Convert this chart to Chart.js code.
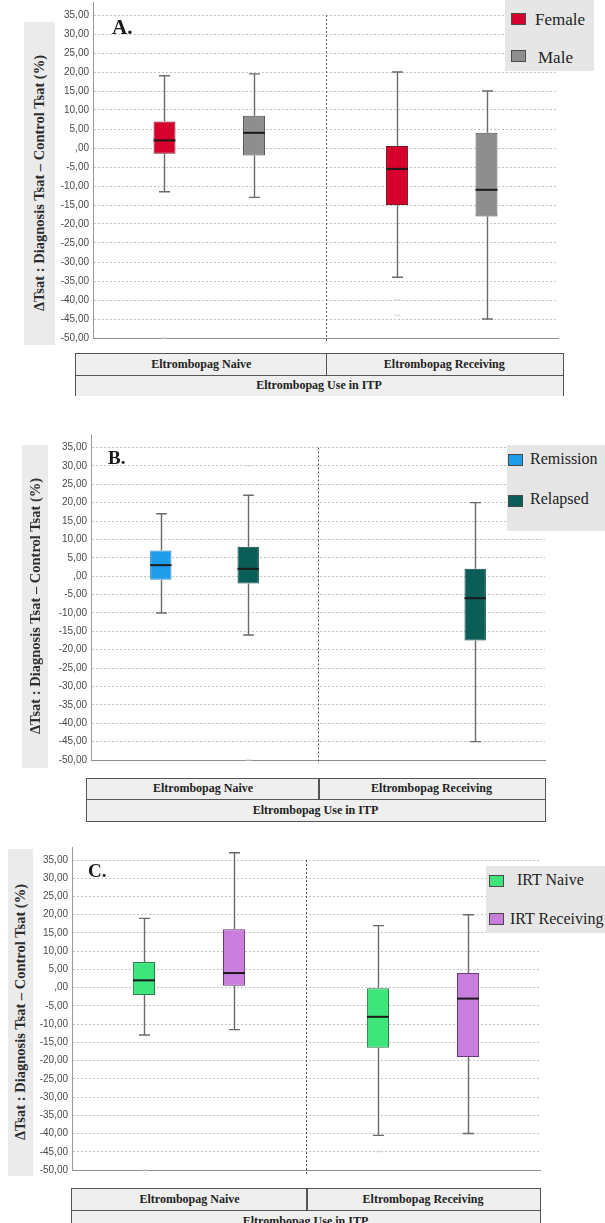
<!DOCTYPE html>
<html>
<head>
<meta charset="utf-8">
<script src="https://cdn.jsdelivr.net/npm/chart.js@4/dist/chart.umd.min.js"></script>
<style>
  html, body { margin: 0; padding: 0; background: #fff; }
  body { width: 605px; height: 1223px; position: relative; overflow: hidden; }
  canvas.panel { position: absolute; left: 0; }
  .ytitle {
    position: absolute; background: #ebebeb;
    display: flex; align-items: center; justify-content: center;
  }
  .ytitle span {
    writing-mode: vertical-rl; transform: rotate(180deg);
    font: bold 14.5px "Liberation Serif", "Times New Roman", serif; color: #2b2b2b;
    white-space: nowrap;
  }
  .letter { position: absolute; font: bold 20px "Liberation Serif", "Times New Roman", serif; color: #1a1a1a; }
  .legend { position: absolute; background: #e6e6e6; }
  .legend .sw { position: absolute; width: 15px; height: 12px; border: 1px solid #4a4a4a; box-sizing: border-box; }
  .legend .lt { position: absolute; font: 16px "Liberation Serif", "Times New Roman", serif; color: #222; white-space: nowrap; line-height: 1; }
  .tbl { position: absolute; background: #efefef; border: 1.5px solid #555; box-sizing: border-box; }
  .tbl .cell { position: absolute; display: flex; align-items: center; justify-content: center;
    font: bold 12px "Liberation Serif", "Times New Roman", serif; color: #222; white-space: nowrap; }
  .tbl .vline { position: absolute; width: 1.5px; background: #555; }
  .tbl .hline { position: absolute; height: 1.5px; background: #555; left: 0; right: 0; }
</style>
</head>
<body>
<canvas id="chartA" class="panel" width="605" height="348" style="top:0px"></canvas>
<canvas id="chartB" class="panel" width="605" height="340" style="top:430px"></canvas>
<canvas id="chartC" class="panel" width="605" height="335" style="top:845px"></canvas>

<script>
// ---- shared axis content ----
const categories = ['Eltrombopag Naive', 'Eltrombopag Receiving'];
const groupTitle = 'Eltrombopag Use in ITP';
const yAxisTitle = 'ΔTsat : Diagnosis Tsat – Control Tsat (%)';
const yTickValues = [35, 30, 25, 20, 15, 10, 5, 0, -5, -10, -15, -20, -25, -30, -35, -40, -45, -50];
const yTickLabels = ['35,00', '30,00', '25,00', '20,00', '15,00', '10,00', '5,00', ',00', '-5,00',
  '-10,00', '-15,00', '-20,00', '-25,00', '-30,00', '-35,00', '-40,00', '-45,00', '-50,00'];

// ---- A. sex ----
const femaleMin    = [-11.5, -34];
const femaleQ1     = [-1.5, -15];
const femaleMedian = [2, -5.5];
const femaleQ3     = [7, 0.5];
const femaleMax    = [19, 20];
const femaleOutliers = [[-50], [-40, -44]];

const maleMin    = [-13, -45];
const maleQ1     = [-2, -18];
const maleMedian = [4, -11];
const maleQ3     = [8.5, 4];
const maleMax    = [19.5, 15];
const maleOutliers = [[], []];

// ---- B. disease status ----
const remissionMin    = [-10, null];
const remissionQ1     = [-1, null];
const remissionMedian = [3, null];
const remissionQ3     = [7, null];
const remissionMax    = [17, null];
const remissionOutliers = [[-15], []];

const relapsedMin    = [-16, -45];
const relapsedQ1     = [-2, -17.5];
const relapsedMedian = [2, -6];
const relapsedQ3     = [8, 2];
const relapsedMax    = [22, 20];
const relapsedOutliers = [[30, -50], []];

// ---- C. IRT use ----
const irtNaiveMin    = [-13, -40.5];
const irtNaiveQ1     = [-2, -16.5];
const irtNaiveMedian = [2, -8];
const irtNaiveQ3     = [7, 0];
const irtNaiveMax    = [19, 17];
const irtNaiveOutliers = [[-50], [-45]];

const irtRecMin    = [-11.5, -40];
const irtRecQ1     = [0.5, -19];
const irtRecMedian = [4, -3];
const irtRecQ3     = [16, 4];
const irtRecMax    = [37, 20];
const irtRecOutliers = [[], []];

// Box series: the bar spans Q1..Q3, whiskers/median are drawn by the plugin below
function boxSeries(label, min, q1, med, q3, max, outliers, fill, border) {
  return {
    label,
    data: q1.map((v, i) => (v == null ? null : [v, q3[i]])),
    whiskerLow: min, whiskerHigh: max, median: med, outliers,
    backgroundColor: fill, borderColor: border, borderWidth: 1, borderSkipped: false,
    categoryPercentage: 0.77, barPercentage: 0.245
  };
}

const boxPlotPlugin = {
  id: 'boxPlotPlugin',
  beforeDatasetsDraw(chart) {
    const { ctx, chartArea: a, scales: { x } } = chart;
    // category divider
    const xd = (x.getPixelForValue(0) + x.getPixelForValue(1)) / 2;
    ctx.save();
    ctx.strokeStyle = '#5a5a5a'; ctx.lineWidth = 1; ctx.setLineDash([2, 2]);
    ctx.beginPath(); ctx.moveTo(Math.round(xd) + 0.5, a.top); ctx.lineTo(Math.round(xd) + 0.5, a.bottom + 4); ctx.stroke();
    ctx.setLineDash([]);
    // y axis line runs a little above the top tick
    ctx.strokeStyle = '#9a9a9a';
    ctx.beginPath(); ctx.moveTo(a.left + 0.5, a.top - 13); ctx.lineTo(a.left + 0.5, a.top); ctx.stroke();
    ctx.restore();
  },
  afterDatasetsDraw(chart) {
    const { ctx, scales: { y } } = chart;
    ctx.save();
    chart.data.datasets.forEach((ds, di) => {
      const meta = chart.getDatasetMeta(di);
      meta.data.forEach((bar, i) => {
        const xc = Math.round(bar.x) + 0.5;
        const w = bar.width;
        (ds.outliers[i] || []).forEach(v => {
          const yo = y.getPixelForValue(v);
          ctx.strokeStyle = '#cfcfcf'; ctx.lineWidth = 1;
          ctx.beginPath(); ctx.moveTo(xc - 3, yo); ctx.lineTo(xc + 3, yo); ctx.stroke();
        });
        if (ds.data[i] == null) return;
        const yq1 = y.getPixelForValue(ds.data[i][0]);
        const yq3 = y.getPixelForValue(ds.data[i][1]);
        const ylo = y.getPixelForValue(ds.whiskerLow[i]);
        const yhi = y.getPixelForValue(ds.whiskerHigh[i]);
        const ym = y.getPixelForValue(ds.median[i]);
        const cap = w * 0.25;
        ctx.strokeStyle = '#6a6a6a'; ctx.lineWidth = 1.4;
        ctx.beginPath();
        ctx.moveTo(xc, Math.min(yq1, yq3)); ctx.lineTo(xc, yhi);
        ctx.moveTo(xc - cap, yhi); ctx.lineTo(xc + cap, yhi);
        ctx.moveTo(xc, Math.max(yq1, yq3)); ctx.lineTo(xc, ylo);
        ctx.moveTo(xc - cap, ylo); ctx.lineTo(xc + cap, ylo);
        ctx.stroke();
        ctx.strokeStyle = '#1a1a1a'; ctx.lineWidth = 2;
        ctx.beginPath(); ctx.moveTo(bar.x - w / 2, ym); ctx.lineTo(bar.x + w / 2, ym); ctx.stroke();
      });
    });
    ctx.restore();
  }
};

function makePanel(canvasId, canvasTop, area, datasets) {
  const cv = document.getElementById(canvasId);
  return new Chart(cv, {
    type: 'bar',
    data: { labels: categories, datasets },
    options: {
      responsive: false, animation: false,
      layout: { padding: { left: 0, right: 605 - area.right, top: area.top - canvasTop, bottom: canvasTop + cv.height - area.bottom } },
      plugins: { legend: { display: false }, tooltip: { enabled: false } },
      scales: {
        x: {
          grid: { display: false, drawTicks: false },
          ticks: { display: false },
          border: { display: true, color: '#8f8f8f', width: 1 },
          afterFit: s => { s.height = 0; }
        },
        y: {
          min: -50, max: 35,
          ticks: {
            stepSize: 5, padding: 4, color: '#4a4a4a',
            font: { family: '"Liberation Sans", Arial, sans-serif', size: 10 },
            callback: v => { const k = yTickValues.indexOf(v); return k >= 0 ? yTickLabels[k] : ''; }
          },
          grid: { color: '#c4c4c4', lineWidth: 1, drawTicks: false },
          border: { display: true, color: '#9a9a9a', width: 1, dash: [2, 2] },
          afterFit: s => { s.width = area.left; }
        }
      }
    },
    plugins: [boxPlotPlugin]
  });
}

const chartA = makePanel('chartA', 0, { left: 93, right: 558, top: 15, bottom: 342 }, [
  boxSeries('Female', femaleMin, femaleQ1, femaleMedian, femaleQ3, femaleMax, femaleOutliers, '#d5002c', '#7d1424'),
  boxSeries('Male', maleMin, maleQ1, maleMedian, maleQ3, maleMax, maleOutliers, '#8e8e8e', '#4f4f4f')
]);
const chartB = makePanel('chartB', 430, { left: 91, right: 545, top: 447.5, bottom: 762 }, [
  boxSeries('Remission', remissionMin, remissionQ1, remissionMedian, remissionQ3, remissionMax, remissionOutliers, '#1f9cea', '#3a8cc4'),
  boxSeries('Relapsed', relapsedMin, relapsedQ1, relapsedMedian, relapsedQ3, relapsedMax, relapsedOutliers, '#0b5d57', '#0a4a45')
]);
const chartC = makePanel('chartC', 845, { left: 72, right: 540, top: 860, bottom: 1174 }, [
  boxSeries('IRT Naive', irtNaiveMin, irtNaiveQ1, irtNaiveMedian, irtNaiveQ3, irtNaiveMax, irtNaiveOutliers, '#3de57b', '#2d7d4c'),
  boxSeries('IRT Receiving', irtRecMin, irtRecQ1, irtRecMedian, irtRecQ3, irtRecMax, irtRecOutliers, '#c97ddc', '#6a3a78')
]);

// ---- surrounding text: axis titles, panel letters, legends, category tables ----
function addEl(cls, style, html) {
  const d = document.createElement('div');
  d.className = cls;
  Object.assign(d.style, style);
  if (html != null) d.innerHTML = html;
  document.body.appendChild(d);
  return d;
}

function decorate(chart, opt) {
  addEl('ytitle', { left: opt.title[0] + 'px', top: opt.title[1] + 'px', width: opt.title[2] + 'px', height: opt.title[3] + 'px' },
    '<span>' + yAxisTitle + '</span>');
  addEl('letter', { left: opt.letter[1] + 'px', top: opt.letter[2] + 'px', fontSize: opt.letter[3] + 'px' }, opt.letter[0]);

  const lg = addEl('legend', { left: opt.legend.box[0] + 'px', top: opt.legend.box[1] + 'px',
    width: opt.legend.box[2] + 'px', height: opt.legend.box[3] + 'px' });
  chart.data.datasets.forEach((ds, i) => {
    const it = opt.legend.items[i];
    const sw = document.createElement('div');
    sw.className = 'sw';
    Object.assign(sw.style, { left: it[0] + 'px', top: it[1] + 'px', background: ds.backgroundColor });
    lg.appendChild(sw);
    const t = document.createElement('div');
    t.className = 'lt';
    t.textContent = ds.label;
    Object.assign(t.style, { left: it[2] + 'px', top: it[3] + 'px', fontSize: opt.legend.size + 'px' });
    lg.appendChild(t);
  });

  const x = chart.scales.x;
  const pageDivider = (x.getPixelForValue(0) + x.getPixelForValue(1)) / 2;
  const [tl, tt, tr, h1, h2, bottomBorder] = opt.table;
  const tb = addEl('tbl', { left: tl + 'px', top: tt + 'px', width: (tr - tl) + 'px', height: (h1 + h2) + 'px',
    borderBottom: bottomBorder ? '1.5px solid #555' : 'none' });
  const split = pageDivider - tl;
  const cell = (l, w, top, h, text) => {
    const c = document.createElement('div');
    c.className = 'cell';
    Object.assign(c.style, { left: l + 'px', width: w + 'px', top: top + 'px', height: h + 'px' });
    c.textContent = text;
    tb.appendChild(c);
  };
  cell(0, split, 0, h1 - 1.5, categories[0]);
  cell(split, tr - tl - split - 3, 0, h1 - 1.5, categories[1]);
  cell(0, tr - tl - 3, h1, h2 - 2, groupTitle);
  const v = document.createElement('div');
  v.className = 'vline';
  Object.assign(v.style, { left: (split - 1) + 'px', top: '0px', height: (h1 - 1.5) + 'px' });
  tb.appendChild(v);
  const hl = document.createElement('div');
  hl.className = 'hline';
  hl.style.top = (h1 - 1.5) + 'px';
  tb.appendChild(hl);
}

decorate(chartA, {
  title: [24, 22, 31, 323],
  letter: ['A.', 112, 15, 21],
  legend: { box: [505, 0, 89, 71], size: 17, items: [[6, 13, 30, 11], [6, 50, 33, 49]] },
  table: [75, 353, 564, 22, 21, false]
});
decorate(chartB, {
  title: [22, 445, 26, 323],
  letter: ['B.', 108, 447, 19],
  legend: { box: [507, 445, 98, 86], size: 16, items: [[1, 9, 23, 6], [1, 50, 23, 46]] },
  table: [86, 778, 546, 21, 23, true]
});
decorate(chartC, {
  title: [8, 849, 25, 327],
  letter: ['C.', 88, 860, 19],
  legend: { box: [486, 866, 119, 67], size: 16, items: [[3, 9, 31, 6], [3, 47, 24, 45]] },
  table: [71, 1188, 541, 22, 22, true]
});
</script>
</body>
</html>
